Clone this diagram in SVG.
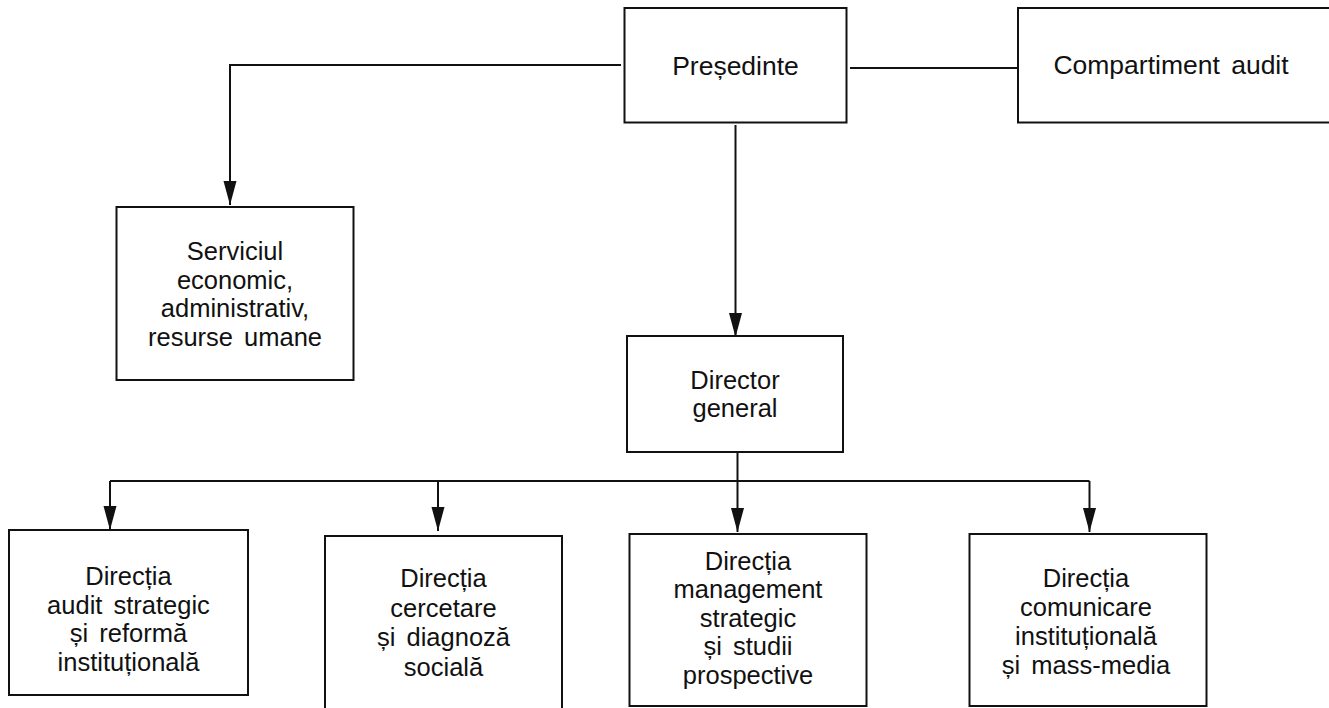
<svg xmlns="http://www.w3.org/2000/svg" width="1329" height="708" viewBox="0 0 1329 708">
<defs>
<style>
.box{fill:#fff;stroke:#111;stroke-width:2}
.lbl{font-family:"Liberation Sans",Arial,sans-serif;font-size:25.5px;fill:#111;text-anchor:middle;word-spacing:4px}
.top{font-size:26.5px}
.con{fill:none;stroke:#111;stroke-width:2}
</style>
<marker id="arr" markerUnits="userSpaceOnUse" markerWidth="24" markerHeight="14" refX="24" refY="7" orient="auto">
<path d="M0,0.5 L24,7 L0,13.5 z" fill="#111"/>
</marker>
</defs>
<rect width="1329" height="708" fill="#fff"/>
<g id="connectors">
<path class="con" d="M621,65 H230 V205" marker-end="url(#arr)"/>
<path class="con" d="M850,68 H1018"/>
<path class="con" d="M735.5,125 V337" marker-end="url(#arr)"/>
<path class="con" d="M737.5,452 V532" marker-end="url(#arr)"/>
<path class="con" d="M110,481 H1089.5"/>
<path class="con" d="M110,481 V530" marker-end="url(#arr)"/>
<path class="con" d="M438,481 V531" marker-end="url(#arr)"/>
<path class="con" d="M1089.5,481 V532" marker-end="url(#arr)"/>
</g>
<g id="presedinte">
<rect class="box" x="624.5" y="8" width="222" height="114.5"/>
<text class="lbl top" x="735.5" y="75">Președinte</text>
</g>
<g id="compartiment-audit">
<rect class="box" x="1018" y="8" width="340" height="114.5"/>
<text class="lbl top" x="1171" y="74">Compartiment audit</text>
</g>
<g id="serviciul">
<rect class="box" x="116.5" y="207" width="237" height="173"/>
<text class="lbl" x="235" y="260">Serviciul</text>
<text class="lbl" x="235" y="288.5">economic,</text>
<text class="lbl" x="235" y="317">administrativ,</text>
<text class="lbl" x="235" y="346">resurse umane</text>
</g>
<g id="director-general">
<rect class="box" x="627" y="336" width="216" height="116"/>
<text class="lbl" x="735" y="389">Director</text>
<text class="lbl" x="735" y="417">general</text>
</g>
<g id="directia-audit">
<rect class="box" x="9" y="530" width="239" height="165"/>
<text class="lbl" x="128.5" y="585">Direcția</text>
<text class="lbl" x="128.5" y="613.5">audit strategic</text>
<text class="lbl" x="128.5" y="642">și reformă</text>
<text class="lbl" x="128.5" y="670.5">instituțională</text>
</g>
<g id="directia-cercetare">
<rect class="box" x="325" y="536" width="237" height="200"/>
<text class="lbl" x="443.5" y="587">Direcția</text>
<text class="lbl" x="443.5" y="616.5">cercetare</text>
<text class="lbl" x="443.5" y="646">și diagnoză</text>
<text class="lbl" x="443.5" y="675.5">socială</text>
</g>
<g id="directia-management">
<rect class="box" x="629.5" y="534" width="237" height="172"/>
<text class="lbl" x="748" y="570">Direcția</text>
<text class="lbl" x="748" y="598">management</text>
<text class="lbl" x="748" y="626.5">strategic</text>
<text class="lbl" x="748" y="655">și studii</text>
<text class="lbl" x="748" y="683.5">prospective</text>
</g>
<g id="directia-comunicare">
<rect class="box" x="969.5" y="534" width="237" height="172"/>
<text class="lbl" x="1086" y="587">Direcția</text>
<text class="lbl" x="1086" y="616">comunicare</text>
<text class="lbl" x="1086" y="645">instituțională</text>
<text class="lbl" x="1086" y="673.5">și mass-media</text>
</g>
</svg>
